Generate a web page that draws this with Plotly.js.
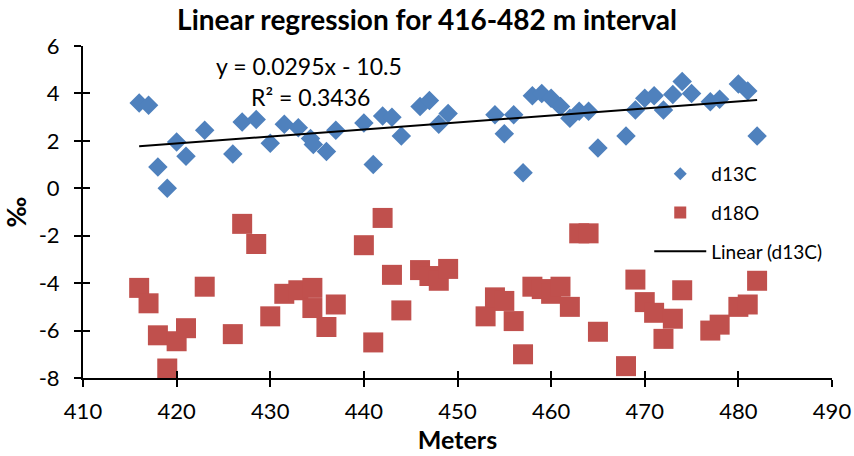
<!DOCTYPE html>
<html><head><meta charset="utf-8">
<script src="https://cdn.plot.ly/plotly-3.0.1.min.js"></script>
<style>html,body{margin:0;padding:0;background:#fff}#chart{width:854px;height:456px}</style>
</head><body><div id="chart"></div>
<script>
const d13C_x = [416,417,418,419,420,421,423,426,427,428.5,430,431.5,433,434.3,434.6,436,437,440,441,442,443,444,446,447,448,449,454,455,456,457,458,459,460,461,462,463,464,465,468,469,470,471,472,473,474,475,477,478,480,481,482];
const d13C_y = [3.6,3.5,0.9,0.0,1.95,1.35,2.45,1.45,2.8,2.9,1.9,2.7,2.55,2.1,1.85,1.55,2.45,2.75,1.0,3.05,3.0,2.2,3.45,3.7,2.7,3.15,3.1,2.3,3.1,0.65,3.9,4.0,3.8,3.45,2.95,3.25,3.25,1.7,2.2,3.3,3.8,3.9,3.3,3.95,4.5,4.0,3.65,3.75,4.4,4.1,2.2];
const d18O_x = [416,417,418,419,420,421,423,426,427,428.5,430,431.5,433,434.5,434.5,436,437,440,441,442,443,444,446,447,448,449,453,454,455,456,457,458,459,460,461,462,463,464,465,468,469,470,471,472,473,474,477,478,480,481,482];
const d18O_y = [-4.2,-4.85,-6.2,-7.6,-6.45,-5.9,-4.15,-6.15,-1.5,-2.35,-5.4,-4.45,-4.3,-4.2,-5.05,-5.85,-4.9,-2.4,-6.5,-1.25,-3.65,-5.15,-3.45,-3.7,-3.9,-3.4,-5.4,-4.6,-4.75,-5.6,-7.0,-4.15,-4.25,-4.45,-4.15,-5.0,-1.9,-1.9,-6.05,-7.5,-3.85,-4.8,-5.25,-6.35,-5.5,-4.3,-6.0,-5.75,-5.0,-4.9,-3.9];
const trendSlope = 0.0295;
const trendIntercept = -10.5;
const trendR2 = 0.3436;
const xTicks = [410,420,430,440,450,460,470,480,490];
const yTicks = [-8,-6,-4,-2,0,2,4,6];

const FONT = 'Lato, "Open Sans", sans-serif';
const BLUE = '#4F81BD', RED = '#C0504D';
const xmin = Math.min(...d13C_x), xmax = Math.max(...d13C_x);
const trendX = [xmin, xmax];
const trendY = trendX.map(v => trendSlope * v + trendIntercept);

const traces = [
  {x: d13C_x, y: d13C_y, mode: 'markers', type: 'scatter', showlegend: false,
   marker: {symbol: 'diamond', size: 15, color: BLUE, line: {width: 0}}},
  {x: d18O_x, y: d18O_y, mode: 'markers', type: 'scatter', showlegend: false,
   marker: {symbol: 'square', size: 20, color: RED, line: {width: 0}}},
  {x: trendX, y: trendY, mode: 'lines', type: 'scatter', showlegend: false,
   line: {color: '#000', width: 2}},
  {x: [null], y: [null], mode: 'markers', type: 'scatter', name: 'd13C', legendgroup: 'a',
   marker: {symbol: 'diamond', size: 10, color: BLUE}},
  {x: [null], y: [null], mode: 'markers', type: 'scatter', name: 'd18O', legendgroup: 'b',
   marker: {symbol: 'square', size: 12, color: RED}},
  {x: [null], y: [null], mode: 'lines', type: 'scatter', name: 'Linear (d13C)', legendgroup: 'c',
   line: {color: '#000', width: 2}},
  {x: d13C_x, y: d13C_y, xaxis: 'x2', yaxis: 'y2', mode: 'markers', type: 'scatter',
   showlegend: false, hoverinfo: 'skip', marker: {opacity: 0}}
];

const axisCommon = {
  showgrid: false, zeroline: false, showline: true, linecolor: '#000', linewidth: 2,
  ticks: 'outside', ticklen: 7, tickwidth: 2, tickcolor: '#000',
  tickfont: {family: FONT, size: 22, color: '#000'}
};

const layout = {
  width: 854, height: 456,
  margin: {l: 83, r: 22, t: 46, b: 78},
  paper_bgcolor: '#fff', plot_bgcolor: '#fff',
  font: {family: FONT, color: '#000'},
  title: {text: 'Linear regression for 416-482 m interval', font: {family: FONT, size: 28, color: '#000', weight: 'bold'},
          x: 0.5, xanchor: 'center', y: 0.955, yanchor: 'middle'},
  xaxis: Object.assign({}, axisCommon, {range: [410, 490], tickvals: xTicks, ticktext: xTicks.map(String),
          ticklabelstandoff: 6,
          title: {text: 'Meters', font: {family: FONT, size: 25, weight: 'bold'}, standoff: 0}}),
  yaxis: Object.assign({}, axisCommon, {range: [-8, 6], tickvals: yTicks, ticktext: yTicks.map(String),
          ticklabelstandoff: 10,
          title: {text: '‰', font: {family: FONT, size: 26, weight: 'bold'}, standoff: 10}}),
  xaxis2: {overlaying: 'x', matches: 'x', range: [410, 490], tickvals: xTicks, showticklabels: false,
           ticks: 'inside', ticklen: 7, tickwidth: 2, tickcolor: '#000', showgrid: false, zeroline: false, showline: false, anchor: 'y'},
  yaxis2: {overlaying: 'y', range: [-8, 6], tickvals: yTicks, showticklabels: false,
           ticks: 'inside', ticklen: 7, tickwidth: 2, tickcolor: '#000', showgrid: false, zeroline: false, showline: false, anchor: 'x'},
  legend: {x: 0.756, xanchor: 'left', y: 0.672, yanchor: 'top', bgcolor: 'rgba(0,0,0,0)',
           font: {family: FONT, size: 19, color: '#000'}, itemwidth: 52, tracegroupgap: 11},
  annotations: [
    {xref: 'paper', yref: 'paper', x: (309-83)/749, y: (378-66)/332, text: 'y = 0.0295x - 10.5',
     showarrow: false, xanchor: 'center', yanchor: 'middle', font: {family: FONT, size: 23, color: '#000'}},
    {xref: 'paper', yref: 'paper', x: (310-83)/749, y: (378-97)/332, text: 'R² = ' + trendR2.toFixed(4),
     showarrow: false, xanchor: 'center', yanchor: 'middle', font: {family: FONT, size: 23, color: '#000'}}
  ]
};

Plotly.newPlot('chart', traces, layout, {displayModeBar: false, staticPlot: true});
</script></body></html>
